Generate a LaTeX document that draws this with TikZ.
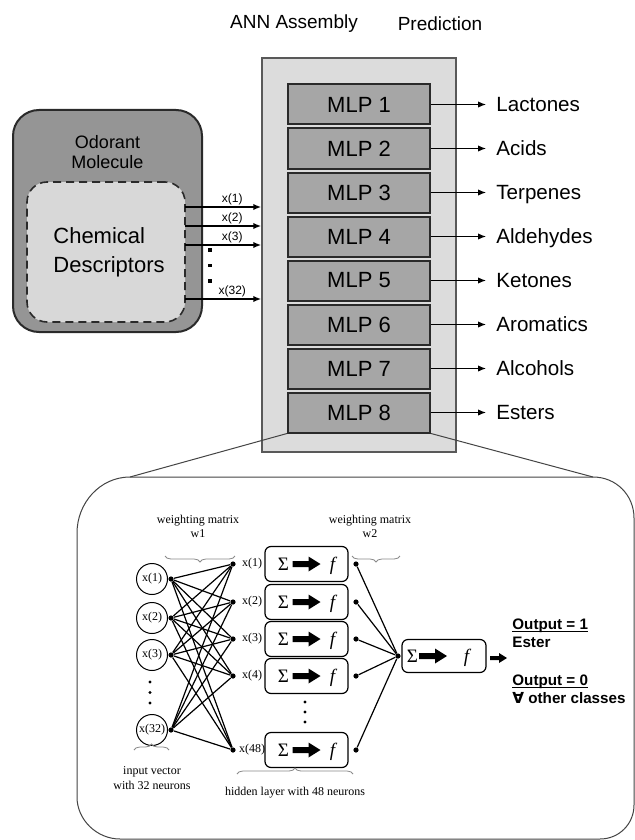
\documentclass[tikz,border=0pt]{standalone}
\usepackage{fontspec}
\setmainfont{Liberation Sans}
\newfontfamily\netfont{Liberation Serif}
\newfontfamily\symfont{DejaVu Sans}
\usetikzlibrary{arrows.meta,decorations.pathreplacing}
\definecolor{asmfill}{HTML}{DCDCDC}
\definecolor{mlpfill}{HTML}{A6A6A6}
\definecolor{molout}{HTML}{959595}
\definecolor{molin}{HTML}{D8D8D8}
\definecolor{edge}{HTML}{2A2A2A}
\definecolor{bracegray}{HTML}{8A8A8A}
\definecolor{zgray}{HTML}{444444}
\newcommand{\myul}[1]{{\setbox0\hbox{#1}\rlap{\rule[-1.6pt]{\wd0}{0.7pt}}\box0}}
\tikzset{
  mlpbox/.style={draw=edge, line width=1pt, fill=mlpfill, minimum width=71pt, minimum height=20pt, inner sep=0pt, font=\fontsize{11}{13}\selectfont},
  predlab/.style={anchor=west, inner sep=0pt, text height=7.4pt, text depth=0pt, font=\fontsize{10.3}{12}\selectfont},
  predarr/.style={-{Latex[length=4pt,width=3.2pt]}, line width=0.6pt, shorten >=5pt},
  headtxt/.style={font=\fontsize{9.5}{11}\selectfont},
  xarr/.style={-{Latex[length=4pt,width=3.2pt]}, line width=0.75pt},
  xlab/.style={font=\fontsize{6}{7}\selectfont, inner sep=0.6pt, above},
  sqdot/.style={fill=black, minimum size=1.8pt, inner sep=0pt},
  zline/.style={draw=zgray, line width=0.5pt},
  netlab/.style={font=\netfont\fontsize{6}{7.2}\selectfont, inner sep=0pt, align=center},
  incirc/.style={circle, draw, line width=0.5pt, minimum size=15.5pt, inner sep=0pt, font=\netfont\fontsize{6}{7}\selectfont},
  ndot/.style={circle, fill=black, minimum size=2.6pt, inner sep=0pt},
  wline/.style={line width=0.6pt},
  hbox/.style={draw, rounded corners=3pt, line width=0.6pt, minimum width=41.5pt, minimum height=17.5pt, inner sep=0pt, text height=6.3pt, text depth=0pt, font=\netfont\fontsize{9.5}{10}\selectfont},
  smalldot/.style={circle, fill=black, minimum size=1.6pt, inner sep=0pt},
  nbrace/.style={decorate, decoration={brace, amplitude=3pt}, draw=bracegray, line width=0.4pt},
  outtxt/.style={anchor=base west, inner sep=0pt, font=\bfseries\fontsize{7.6}{9}\selectfont},
  fatarr/.pic={\fill (-14,-3) -- (2,-3) -- (2,-7.5) -- (14,0) -- (2,7.5) -- (2,3) -- (-14,3) -- cycle;},
  smallarr/.pic={\fill (-8.5,-2) -- (0.5,-2) -- (0.5,-5) -- (8.5,0) -- (0.5,5) -- (0.5,2) -- (-8.5,2) -- cycle;}
}
\begin{document}
\begin{tikzpicture}[x=0.5pt,y=-0.5pt]
\useasboundingbox (0,0) rectangle (635,840);
\fill[white] (0,0) rectangle (635,840);

% headers
\node[headtxt] (hann) at (294,24) {ANN Assembly};
\node[headtxt] (hpred) at (440,24) {Prediction};

% assembly
\node[draw=black!65, fill=asmfill, line width=0.75pt, minimum width=97pt, minimum height=197pt, inner sep=0pt] (asm) at (359,255) {};
\foreach \k/\lab in {1/Lactones,2/Acids,3/Terpenes,4/Aldehydes,5/Ketones,6/Aromatics,7/Alcohols,8/Esters}{
  \pgfmathsetmacro{\yy}{104.5+44*(\k-1)}
  \node[mlpbox] (mlp\k) at (359,\yy) {MLP \k};
  \node[predlab] (lab\k) at (496,\yy) {\lab};
  \draw[predarr] (mlp\k.east) -- (lab\k.west);
}

% molecule
\node[draw=edge, fill=molout, line width=1pt, rounded corners=13pt, minimum width=94.5pt, minimum height=111pt, inner sep=0pt] (mol) at (107.5,221) {};
\node[draw=edge, dash pattern=on 4pt off 2.5pt, fill=molin, line width=0.8pt, rounded corners=10pt, minimum width=79pt, minimum height=70pt, inner sep=0pt] (mi) at (106,252) {};
\node[font=\fontsize{9}{10}\selectfont, align=center, inner sep=0pt] (odt) at (107.5,152) {Odorant\\Molecule};
\node[font=\fontsize{11}{14.5}\selectfont, align=left, anchor=west, inner sep=0pt] (chem) at (53,252.5) {Chemical\\Descriptors};

\foreach \i/\yy/\t in {1/207/x(1),2/226/x(2),3/245/x(3),32/299/x(32)}{
  \coordinate (s\i) at (185,\yy);
  \draw[xarr] (s\i) -- (s\i -| asm.west) node[xlab, pos=0.62] {\t};
}
\node[sqdot] (q1) at (210,250) {};
\node[sqdot] (q2) at (210,265.5) {};
\node[sqdot] (q3) at (210,281) {};

% zoom box
\coordinate (ztl) at (130,477);
\coordinate (ztr) at (593,477);
\draw[zline] (ztl) -- (ztr) .. controls (616,477) and (634,495) .. (634,518)
  -- (634,805) .. controls (634,824) and (619,839) .. (600,839)
  -- (120,839) .. controls (97,839) and (77,820) .. (77,797)
  -- (77,533) .. controls (77,503) and (100,477) .. (ztl);
\draw[zline] (mlp8.south west) -- (ztl);
\draw[zline] (mlp8.south east) -- (ztr);

% network: inputs
\foreach \i/\yy in {1/579,2/618,3/655,32/730}{
  \node[incirc] (in\i) at (152,\yy) {x(\i)};
  \node[ndot] (id\i) at (171,\yy) {};
}
\node[smalldot] (ie1) at (150,682) {};
\node[smalldot] (ie2) at (150,692.5) {};
\node[smalldot] (ie3) at (150,703) {};

% hidden
\foreach \h/\yy in {1/564,2/602,3/639,4/676,48/750}{
  \node[ndot] (hd\h) at (233,\yy) {};
  \node[netlab] (hl\h) at (252,\yy) {x(\h)};
  \node[hbox] (hb\h) at (306.5,\yy) {Σ\hspace{20.5pt}{\itshape f}};
  \pic at (hb\h.center) {fatarr};
  \node[ndot] (ho\h) at (356,\yy) {};
}
\node[smalldot] (he1) at (305,702) {};
\node[smalldot] (he2) at (305,712) {};
\node[smalldot] (he3) at (305,722) {};

\foreach \a in {1,2,3,32}{
  \foreach \b in {1,2,3,4,48}{
    \draw[wline] (id\a) -- (hd\b);
  }
}

% output
\node[ndot] (cv) at (398,656) {};
\foreach \b in {1,2,3,4,48}{
  \draw[wline] (ho\b) -- (cv);
}
\node[hbox, minimum width=42pt, minimum height=16.5pt] (ob) at (444,656) {};
\node[font=\netfont\fontsize{9.5}{10}\selectfont, inner sep=0pt, text height=6.3pt, text depth=0pt] (obt) at (438,656) {Σ\hspace{23pt}{\itshape f}};
\pic at (433,656) {fatarr};
\pic at (498.5,658) {smallarr};

\node[outtxt] (o1) at (512,629) {\myul{Output = 1}};
\node[outtxt] (o2) at (512,647) {Ester};
\node[outtxt] (o3) at (512,685) {\myul{Output = 0}};
\node[outtxt] (o4) at (512,703) {{\symfont ∀} other classes};

% braces and labels
\draw[nbrace] (235,556) -- (165,556);
\draw[nbrace] (400,556) -- (352,556);
\draw[nbrace] (134,750) -- (169,750);
\draw[nbrace] (237,774) -- (353,774);
\node[netlab] (w1t) at (198,526.5) {weighting matrix\\w1};
\node[netlab] (w2t) at (370,526.5) {weighting matrix\\w2};
\node[netlab] (ivt) at (152,778) {input vector\\with 32 neurons};
\node[netlab] (hlt) at (295,793) {hidden layer with 48 neurons};
\end{tikzpicture}
\end{document}
